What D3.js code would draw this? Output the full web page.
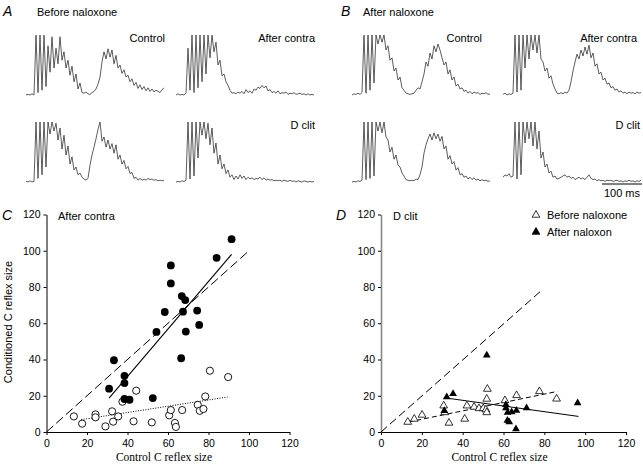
<!DOCTYPE html>
<html>
<head>
<meta charset="utf-8">
<script src="https://cdn.jsdelivr.net/npm/d3@7/dist/d3.min.js"></script>
<style>
  body { margin: 0; background: #fff; }
  svg { display: block; font-family: "Liberation Sans", Arial, sans-serif; }
</style>
</head>
<body>
<svg id="fig" width="643" height="464"></svg>
<script>
// ---- reflex traces (amplitude, % of clip level), one sample every 5 ms
var tStep = 5
var aControl = [0,1,0,2,0,100,4,100,8,100,14,82,38,97,45,78,52,97,58,72,45,58,33,48,22,35,10,20,4,3,5,2,1,4,6,10,18,30,55,72,60,77,63,75,52,66,45,50,36,42,30,33,22,27,16,21,11,17,9,14,7,12,6,10,5,8,6,4,9,12]
var aContra = [0,2,0,1,0,3,78,8,100,4,100,12,100,22,100,35,100,62,100,72,88,50,58,32,35,22,16,8,3,4,2,5,3,6,2,9,4,7,3,10,8,13,11,16,12,15,7,9,4,6,3,7,2,4,3,5,1,3,2,4,1,2,3,1,2,0,2,0,1,0]
var aClit = [1,0,2,0,1,100,6,100,12,100,25,100,80,100,85,98,70,90,55,78,45,60,30,42,20,25,12,15,8,5,3,6,28,45,58,72,88,100,68,75,58,70,55,64,48,62,38,45,30,36,22,26,14,16,6,8,3,6,3,5,3,6,4,5,3,4,2,3,2,3]
var aClit2 = [0,1,0,2,1,3,100,5,100,10,100,40,100,78,100,72,98,62,90,48,65,30,45,22,30,14,20,8,12,4,10,5,12,6,10,4,8,5,7,4,6,5,8,4,7,3,5,3,4,2,3,2,3,1,3,2,1,3,1,2,0,2,1,0,2,1,0,1,0,1]
var bControl = [0,2,1,3,1,4,100,3,100,8,100,20,100,85,100,88,100,75,82,58,62,40,45,25,30,12,8,3,2,1,2,3,8,12,10,22,35,55,48,70,60,82,72,85,75,62,50,55,35,42,25,30,15,18,10,12,6,8,3,6,2,5,3,4,1,3,2,4,1,2]
var bContra = [1,3,0,2,1,3,100,5,100,8,100,45,100,60,100,75,100,70,100,60,55,40,45,28,32,18,10,3,2,4,2,5,3,8,22,40,55,68,60,75,65,80,68,83,62,70,48,52,35,38,25,28,18,20,12,14,8,10,5,7,3,5,2,5,3,4,2,5,3,4]
var bClit = [0,1,0,2,1,3,100,4,100,6,100,10,100,85,100,82,100,75,70,50,58,38,45,28,25,15,10,4,3,2,3,2,5,4,12,25,48,62,72,80,70,82,72,80,68,76,55,60,38,44,30,34,20,24,12,14,8,10,5,8,4,7,3,5,2,4,2,3,1,2]
var bClit2 = [8,12,10,14,8,10,100,5,100,12,100,65,100,72,100,60,100,55,85,40,50,25,30,15,18,8,10,5,6,8,10,12,8,10,6,8,4,6,8,5,7,4,8,12,6,4,5,2,4,2,3,1,3,2,3,1,2,3,1,2,0,2,1,3,1,2,0,2,1,3]

// ---- C: after contra (control size vs conditioned size)
var cFilledX = [30.9,33.3,38.5,38.5,38.5,41.0,52.5,54.3,58.4,61.4,61.4,66.8,68.5,67.4,66.5,68.8,74.4,75.4,84.0,91.4]
var cFilledY = [23.9,39.6,31.0,27.0,18.2,17.8,18.7,55.2,66.2,91.9,82.0,75.0,72.8,66.4,40.7,55.4,67.0,59.1,96.1,106.4]
var cOpenX = [13.5,17.6,24.2,24.2,29.1,32.4,32.9,35.4,37.5,44.3,43.0,52.0,60.6,61.4,63.4,63.9,67.0,74.7,75.7,77.5,78.4,80.7,89.7]
var cOpenY = [8.6,4.6,9.7,8.1,3.1,11.4,5.7,8.6,16.7,22.8,5.9,5.3,9.2,12.1,5.0,2.8,12.1,15.0,11.7,12.7,19.6,33.8,30.3]
var cIdentity = [[0,0],[100,100]]
var cFilledFit = [[30.9,18.7],[91.4,98]]
var cOpenFit = [[17.1,6.8],[89.4,19.3]]

// ---- D: D clit, before / after naloxone
var dOpenX = [13.1,16.3,20.1,30.7,31.2,33.3,41.0,42.1,45.6,48.0,50.1,51.4,51.8,52.1,51.8,60.7,66.4,77.6,86.0]
var dOpenY = [5.5,7.2,9.4,14.5,10.8,5.0,7.2,14.5,13.8,13.0,13.0,12.3,10.8,23.7,18.2,17.4,20.2,22.4,18.3]
var dFilledX = [32.2,35.3,31.0,51.8,61.2,61.2,62.0,61.9,62.8,64.0,66.3,66.1,71.3,96.3]
var dFilledY = [19.3,21.1,11.7,42.4,15.0,13.2,10.8,6.4,5.5,11.0,11.9,1.7,13.2,16.0]
var dIdentity = [[0,0],[78.5,78]]
var dOpenFit = [[13.4,5.5],[86.4,22.4]]
var dFilledFit = [[32.2,18.7],[96.7,8.6]]

var ticks = [0,20,40,60,80,100,120]

var svg = d3.select('#fig')

// ================= traces =================
var tScale = d3.scaleLinear().domain([0, 345]).range([0, 138])
var amp = d3.scaleLinear().domain([0, 100]).range([0, -60]).clamp(true)
var traceLine = d3.line()
    .x((d,i) => tScale(i*tStep))
    .y(d => amp(d))

var traces = [
  {data: aControl, x: 26, y: 95, label: 'Control'},
  {data: aContra, x: 176, y: 95, label: 'After contra'},
  {data: aClit, x: 26, y: 182, label: ''},
  {data: aClit2, x: 176, y: 182, label: 'D clit'},
  {data: bControl, x: 352, y: 95, label: 'Control', lx: 482},
  {data: bContra, x: 503, y: 95, label: 'After contra', lx: 637},
  {data: bClit, x: 352, y: 182, label: ''},
  {data: bClit2, x: 503, y: 182, label: 'D clit', lx: 640}
]
traces.forEach(t => {
  var g = svg.append('g').attr('transform', 'translate(' + t.x + ',' + t.y + ')')
  g.append('path')
    .datum(t.data)
    .attr('d', traceLine)
    .attr('fill', 'none')
    .attr('stroke', '#333')
    .attr('stroke-width', 0.8)
    .attr('stroke-linejoin', 'round')
  if (t.label) {
    svg.append('text')
      .attr('x', t.lx || t.x + 139)
      .attr('y', t.y - 53)
      .attr('text-anchor', 'end')
      .attr('font-size', 11)
      .text(t.label)
  }
})

// scale bar
svg.append('line')
  .attr('x1', 642 - tScale(100)).attr('x2', 642)
  .attr('y1', 184).attr('y2', 184)
  .attr('stroke', '#000').attr('stroke-width', 1)
svg.append('text').attr('x', 622).attr('y', 197)
  .attr('text-anchor', 'middle').attr('font-size', 11).text('100 ms')

// panel letters and titles
var letters = [['A', 3, 16], ['B', 341, 16], ['C', 2, 220], ['D', 336, 220]]
letters.forEach(l => {
  svg.append('text').attr('x', l[1]).attr('y', l[2])
    .attr('font-size', 14).attr('font-style', 'italic').text(l[0])
})
svg.append('text').attr('x', 37).attr('y', 16).attr('font-size', 11).text('Before naloxone')
svg.append('text').attr('x', 363).attr('y', 16).attr('font-size', 11).text('After naloxone')

// ================= scatter panels =================
function panel(x0, x1, axisColor) {
  var x = d3.scaleLinear().domain([0, 120]).range([x0, x1])
  var y = d3.scaleLinear().domain([0, 120]).range([432, 214.5])
  var xa = svg.append('g').attr('transform', 'translate(0,432)')
    .call(d3.axisBottom(x).tickValues(ticks).tickSize(3).tickSizeOuter(0))
  var ya = svg.append('g').attr('transform', 'translate(' + x0 + ',0)')
    .call(d3.axisLeft(y).tickValues(ticks).tickSize(3).tickSizeOuter(0))
  ;[xa, ya].forEach(a => {
    a.selectAll('text').attr('font-size', 10.5).attr('font-family', '"Liberation Sans", Arial, sans-serif').attr('fill', '#000')
    a.selectAll('line').attr('stroke', '#000')
    a.select('.domain').attr('stroke', '#000')
  })
  xa.selectAll('text').attr('dy', '0.9em')
  if (axisColor) ya.select('.domain').attr('stroke', axisColor).attr('stroke-width', 1.6)
  svg.append('text')
    .attr('x', (x0 + x1) / 2 - 4).attr('y', 461)
    .attr('text-anchor', 'middle')
    .attr('font-family', '"Liberation Serif", "Times New Roman", serif')
    .attr('font-size', 11.5)
    .text('Control C reflex size')
  return {x: x, y: y}
}

function fitLine(s, pts, dash, w) {
  svg.append('line')
    .attr('x1', s.x(pts[0][0])).attr('y1', s.y(pts[0][1]))
    .attr('x2', s.x(pts[1][0])).attr('y2', s.y(pts[1][1]))
    .attr('stroke', '#000').attr('stroke-width', w || 1)
    .attr('stroke-dasharray', dash)
}

// C
var sc = panel(46.5, 289.5)
svg.append('text').attr('transform', 'translate(12,322) rotate(-90)')
  .attr('text-anchor', 'middle').attr('font-size', 11).text('Conditioned C reflex size')
svg.append('text').attr('x', 58).attr('y', 220).attr('font-size', 11).text('After contra')
fitLine(sc, cIdentity, '9,4', 1)
fitLine(sc, cFilledFit, null, 1.1)
fitLine(sc, cOpenFit, '1,1.5', 1)
svg.append('g').selectAll('circle').data(cOpenX).enter().append('circle')
  .attr('cx', d => sc.x(d)).attr('cy', (d,i) => sc.y(cOpenY[i])).attr('r', 3.6)
  .attr('fill', '#fff').attr('stroke', '#000').attr('stroke-width', 0.9)
svg.append('g').selectAll('circle').data(cFilledX).enter().append('circle')
  .attr('cx', d => sc.x(d)).attr('cy', (d,i) => sc.y(cFilledY[i])).attr('r', 3.9)
  .attr('fill', '#000')

// D
var sd = panel(381, 626, '#888')
svg.append('text').attr('x', 393).attr('y', 220).attr('font-size', 11).text('D clit')
fitLine(sd, dIdentity, '8,4', 1)
fitLine(sd, dOpenFit, '5,3', 1)
fitLine(sd, dFilledFit, null, 1)
var tri = d3.symbol().type(d3.symbolTriangle).size(26)
svg.append('g').selectAll('path').data(dOpenX).enter().append('path')
  .attr('d', tri)
  .attr('transform', (d,i) => 'translate(' + sd.x(d) + ',' + sd.y(dOpenY[i]) + ')')
  .attr('fill', '#fff').attr('stroke', '#000').attr('stroke-width', 0.8)
svg.append('g').selectAll('path').data(dFilledX).enter().append('path')
  .attr('d', tri)
  .attr('transform', (d,i) => 'translate(' + sd.x(d) + ',' + sd.y(dFilledY[i]) + ')')
  .attr('fill', '#000')

// legend
var legend = [['Before naloxone', '#fff'], ['After naloxon', '#000']]
legend.forEach((l, i) => {
  var ly = 215 + i * 17
  svg.append('path').attr('d', tri)
    .attr('transform', 'translate(536,' + ly + ')')
    .attr('fill', l[1]).attr('stroke', '#000').attr('stroke-width', 0.8)
  svg.append('text').attr('x', 547).attr('y', ly + 4).attr('font-size', 11).text(l[0])
})
</script>
</body>
</html>
